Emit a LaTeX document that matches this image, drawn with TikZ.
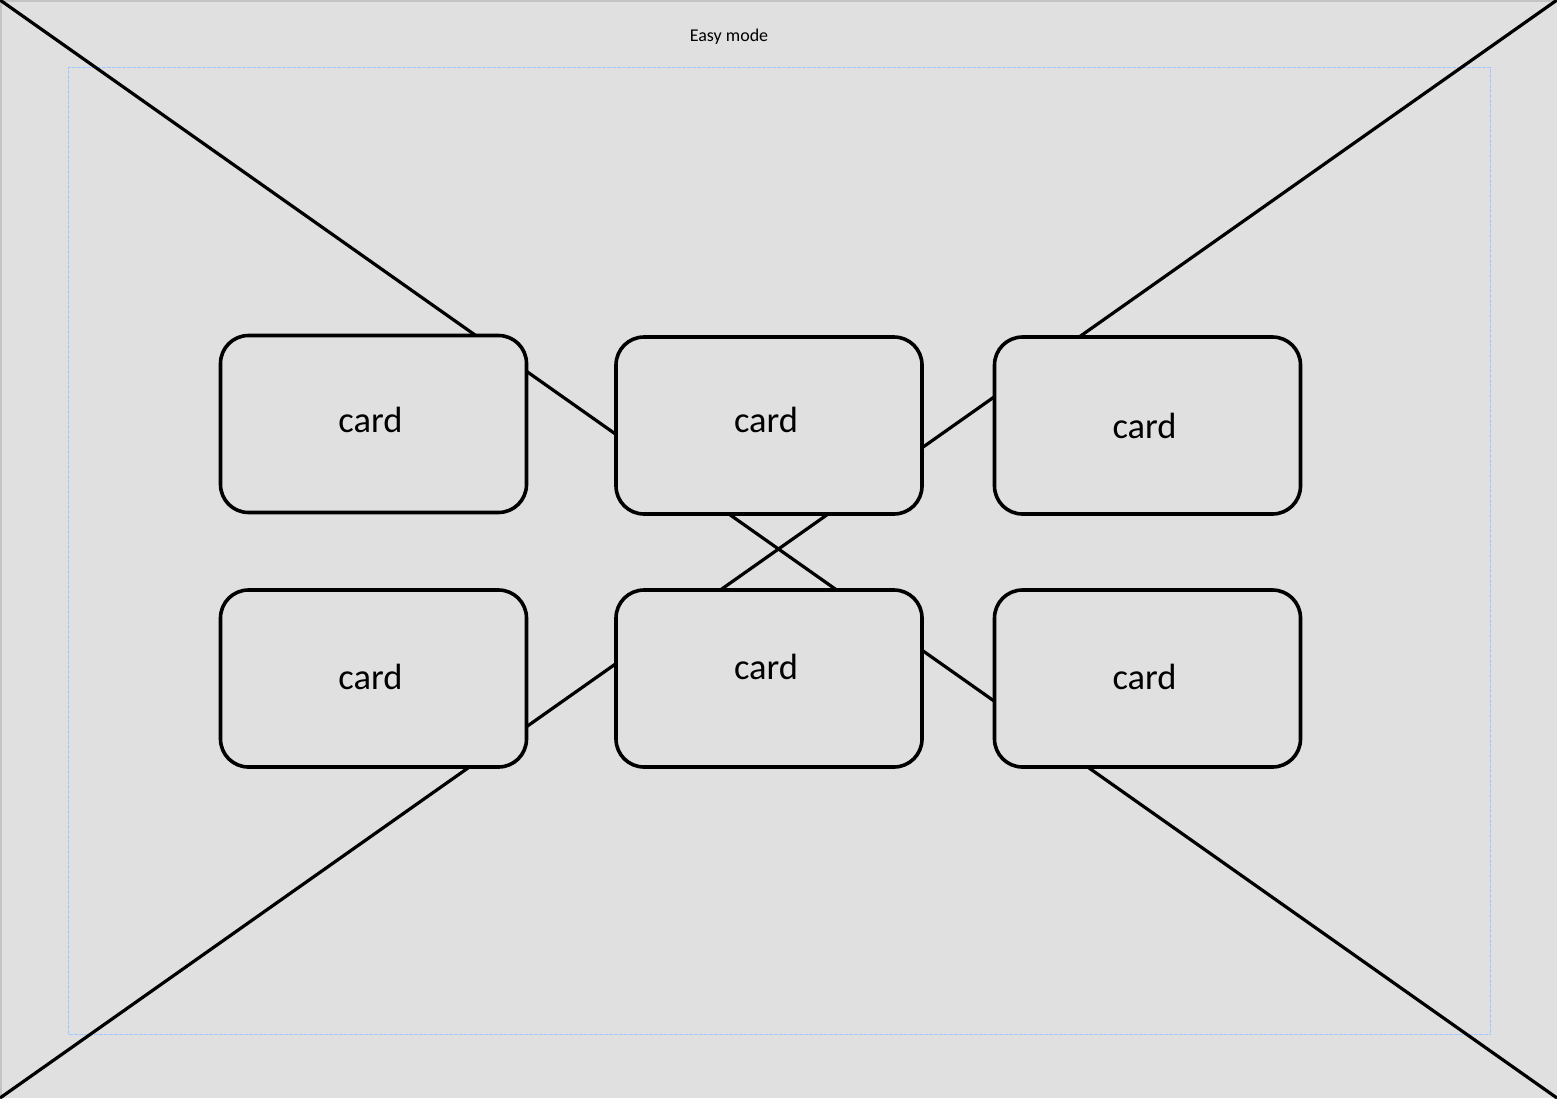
\documentclass[tikz,border=0pt]{standalone}
\usepackage{fontspec}
\setmainfont{Carlito}
\usepackage{tikz}
\tikzset{>=latex}
\usepackage{xcolor}
\definecolor{bg}{HTML}{E0E0E0}
\definecolor{edge}{HTML}{C4C4C4}
\definecolor{frame}{HTML}{A0C8FF}
\tikzstyle{card}=[draw,fill=bg,line width=3.6pt,rounded corners=28pt,
                  minimum width=306pt,minimum height=177pt,inner sep=0pt]
\tikzstyle{card text}=[font=\fontsize{36.5}{42}\selectfont]
\newcommand{\mycard}[4]
{  % #1 = name , #2 = x , #3 = y , #4 = shift of the text
  \node[card] (#1) at (#2,#3) {};
  \node[card text] (#1 t) at ([xshift=-3pt,yshift=#4]#1.center) {card};
}
\begin{document}
\begin{tikzpicture}[x=1pt,y=-1pt]
  \fill[bg] (0,0) rectangle (1557,1098);
  \useasboundingbox (0,0) rectangle (1557,1098);
  \draw[edge,line width=1.5pt] (0.75,1098) -- (0.75,0.75) -- (1557,0.75);
  \draw[frame,line width=0.9pt,dash pattern=on 2pt off 0.5pt] (68,67) rectangle (1490,1034);
  \node[font=\fontsize{18}{20}\selectfont] (title) at (729,36.5) {Easy mode};
  \coordinate (tl) at (0,0);
  \coordinate (tr) at (1557,0);
  \coordinate (bl) at (0,1098);
  \coordinate (br) at (1557,1098);
  \draw[line width=3.2pt] (tl) -- (br);
  \draw[line width=3.2pt] (tr) -- (bl);
  \mycard{c1}{373.5}{424}{4pt}
  \mycard{c2}{769}{425.5}{5.5pt}
  \mycard{c3}{1147.5}{425.5}{0pt}
  \mycard{c4}{373.5}{678.5}{1.5pt}
  \mycard{c5}{769}{678.5}{11.5pt} % text sits high
  \mycard{c6}{1147.5}{678.5}{1.5pt}
\end{tikzpicture}
\end{document}
